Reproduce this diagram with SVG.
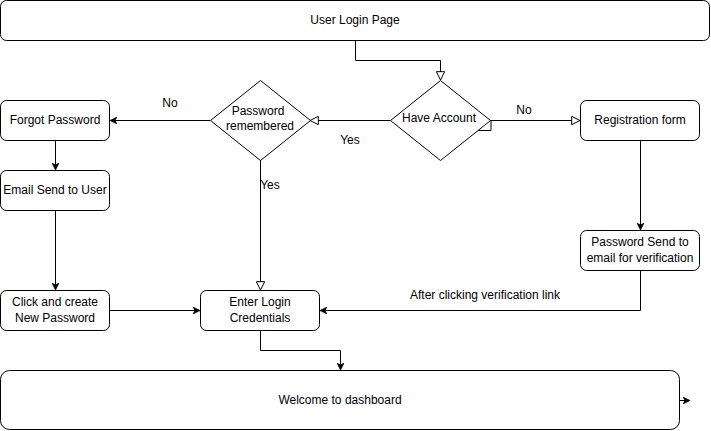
<svg xmlns="http://www.w3.org/2000/svg" width="711" height="431" viewBox="0 0 711 431">
  <style>
    .box { fill: #ffffff; stroke: #000000; stroke-width: 1; }
    .edge { fill: none; stroke: #000000; stroke-width: 1; }
    text { font-family: "Liberation Sans", Arial, Helvetica, sans-serif; font-size: 12px; fill: #000000; text-anchor: middle; dominant-baseline: central; }
  </style>
  <defs>
    <marker id="solid" viewBox="0 0 10 10" refX="10" refY="5" markerWidth="7" markerHeight="7" markerUnits="userSpaceOnUse" orient="auto">
      <path d="M0,0 L10,5 L0,10 L3,5 Z" fill="#000" stroke="#000" stroke-width="1"/>
    </marker>
    <marker id="hollow" viewBox="0 0 12 12" refX="11" refY="6" markerWidth="10" markerHeight="10" markerUnits="userSpaceOnUse" orient="auto">
      <path d="M1,1 L11,6 L1,11 Z" fill="#fff" stroke="#000" stroke-width="1.2"/>
    </marker>
  </defs>

  <rect width="711" height="431" fill="#ffffff"/>

  <g id="connectors">
    <path class="edge" d="M355.5,40 V60.5 H440.5 V80" marker-end="url(#hollow)"/>
    <path class="edge" d="M490,120.5 H580" marker-end="url(#hollow)"/>
    <path class="edge" d="M491,120.5 V130.5 H478"/>
    <path class="edge" d="M390,120.5 H310" marker-end="url(#hollow)"/>
    <path class="edge" d="M210,120.5 H110" marker-end="url(#solid)"/>
    <path class="edge" d="M260.5,160 V290" marker-end="url(#hollow)"/>
    <path class="edge" d="M55.5,140 V170" marker-end="url(#solid)"/>
    <path class="edge" d="M55.5,210 V290" marker-end="url(#solid)"/>
    <path class="edge" d="M110,310.5 H200" marker-end="url(#solid)"/>
    <path class="edge" d="M640.5,140 V230" marker-end="url(#solid)"/>
    <path class="edge" d="M640.5,270 V310.5 H320" marker-end="url(#solid)"/>
    <path class="edge" d="M260.5,330 V350.5 H340.5 V370" marker-end="url(#solid)"/>
    <path class="edge" d="M680,400.5 H690" marker-end="url(#solid)"/>
    <text x="524" y="110">No</text>
    <text x="350" y="140">Yes</text>
    <text x="170" y="103">No</text>
    <text x="270" y="185">Yes</text>
    <text x="485" y="295">After clicking verification link</text>
  </g>

  <g id="user-login-page">
    <rect class="box" x="0.5" y="0.5" width="709" height="40" rx="6"/>
    <text x="355" y="20">User Login Page</text>
  </g>
  <g id="have-account">
    <path class="box" d="M440.5,80.5 L490.5,120.5 L440.5,160.5 L390.5,120.5 Z"/>
    <text x="439" y="118">Have Account</text>
  </g>
  <g id="password-remembered">
    <path class="box" d="M260.5,80.5 L310.5,120.5 L260.5,160.5 L210.5,120.5 Z"/>
    <text x="258" y="111">Password</text>
    <text x="260" y="126">remembered</text>
  </g>
  <g id="registration-form">
    <rect class="box" x="580.5" y="100.5" width="119" height="40" rx="6"/>
    <text x="640" y="120">Registration form</text>
  </g>
  <g id="password-send">
    <rect class="box" x="580.5" y="230.5" width="119" height="40" rx="6"/>
    <text x="640" y="242">Password Send to</text>
    <text x="640" y="258">email for verification</text>
  </g>
  <g id="forgot-password">
    <rect class="box" x="0.5" y="100.5" width="109" height="40" rx="6"/>
    <text x="55" y="120">Forgot Password</text>
  </g>
  <g id="email-send">
    <rect class="box" x="0.5" y="170.5" width="109" height="40" rx="6"/>
    <text x="55" y="190">Email Send to User</text>
  </g>
  <g id="click-create">
    <rect class="box" x="0.5" y="290.5" width="109" height="40" rx="6"/>
    <text x="55" y="302">Click and create</text>
    <text x="55" y="318">New Password</text>
  </g>
  <g id="enter-login">
    <rect class="box" x="200.5" y="290.5" width="119" height="40" rx="6"/>
    <text x="260" y="302">Enter Login</text>
    <text x="260" y="318">Credentials</text>
  </g>
  <g id="welcome">
    <rect class="box" x="0.5" y="370.5" width="679" height="59" rx="9"/>
    <text x="340" y="400">Welcome to dashboard</text>
  </g>
</svg>
